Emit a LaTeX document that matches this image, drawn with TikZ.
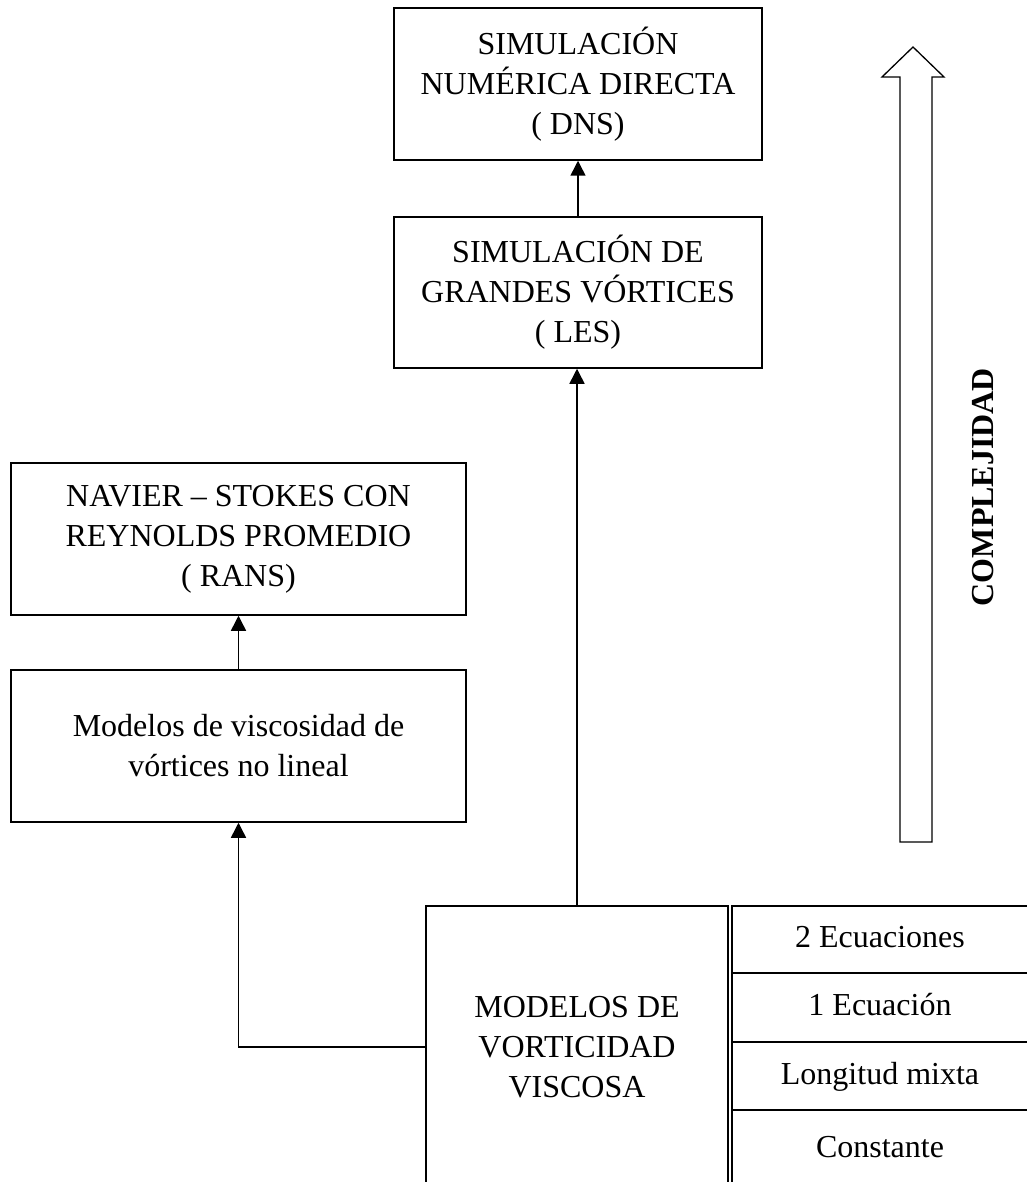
\documentclass[tikz,border=0pt]{standalone}
\usepackage{fontspec}
\setmainfont{Liberation Serif}
\usetikzlibrary{positioning, arrows.meta}

\begin{document}
\begin{tikzpicture}[
  x=1pt, y=-1pt,
  font=\fontsize{32}{40}\selectfont,
  line width=1.5pt,
  modbox/.style={draw, align=center, inner sep=0pt},
  cell/.style={draw, minimum width=296pt, inner sep=0pt},
  flow/.style={-{Triangle[width=15pt,length=15pt]}},
  axlab/.style={rotate=90, font=\fontsize{32}{40}\selectfont\bfseries}
]
\useasboundingbox (0,0) rectangle (1026,1182);
\node[modbox, minimum width=368pt, minimum height=152pt] (dns) at (578,84)
  {SIMULACIÓN\\NUMÉRICA DIRECTA\\( DNS)};
\node[modbox, minimum width=368pt, minimum height=151pt] (les) at (578,292.5)
  {SIMULACIÓN DE\\GRANDES VÓRTICES\\( LES)};
\node[modbox, minimum width=455pt, minimum height=152pt] (rans) at (238.5,539)
  {NAVIER – STOKES CON\\REYNOLDS PROMEDIO\\( RANS)};
\node[modbox, minimum width=455pt, minimum height=152pt] (modv) at (238.5,746)
  {Modelos de viscosidad de\\vórtices no lineal};
\node[modbox, minimum width=302pt, minimum height=282pt] (vis) at (577,1047)
  {MODELOS DE\\VORTICIDAD\\VISCOSA};
\foreach \i/\lab/\yc/\h in {1/2 Ecuaciones/939.5/67, 2/1 Ecuación/1007.5/69,
    3/Longitud mixta/1076/68, 4/Constante/1149/78}
  \node[cell, minimum height=\h pt] (c\i) at (880,\yc) {\strut\lab};
% flechas
\draw[flow] (les.north) -- (dns.south);
\draw[flow] (vis.north) -- (vis.north |- les.south);
\draw[flow] (modv.north) -- (rans.south);
\draw[flow] (vis.west) -- (vis.west -| modv.south) -- (modv.south);
% complejidad
\draw[line width=1.3pt] (900,842) -- (900,77) -- (882,77) -- (913,47)
  -- (944,77) -- (932,77) -- (932,842) -- cycle;
\node[axlab] (cplx) at (983,487) {COMPLEJIDAD};
\end{tikzpicture}
\end{document}
